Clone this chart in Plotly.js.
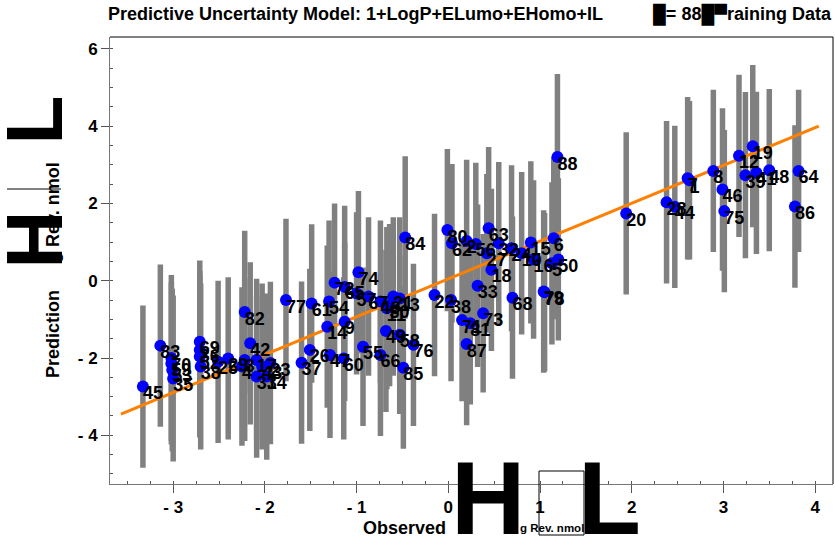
<!DOCTYPE html>
<html>
<head>
<meta charset="utf-8">
<script src="https://cdn.plot.ly/plotly-3.0.1.min.js"></script>
<style>
  html, body { margin: 0; padding: 0; background: #ffffff; }
  #chart { width: 835px; height: 541px; }
</style>
</head>
<body>
<div id="chart"></div>
<script>
// ---- data ----
const pointLabels = [
  "45","83","70","59","53","35","69","36","52","38","25","29","4","3","42","17","43","23","31","34","82",
  "77","61","54","14","9","37","26","47","60","55","66","49","58","76","85","74","72","65","57","67",
  "40","30","21","13","11","84",
  "80","62","2","56","27","63","32","24","10","18","15","16","6","50","5","79","78","33","68","22",
  "38b","73","71","81","87","88",
  "20","28","44","7","1","8","46","75","12","19","39","41","48","64","86"
];
const observed = [
  -3.33,-3.14,-3.02,-3.02,-3.01,-3.00,-2.71,-2.71,-2.71,-2.70,-2.51,-2.40,-2.25,-2.22,-2.16,-2.09,-2.03,-1.94,-2.09,-1.98,-2.22,
  -1.77,-1.49,-1.30,-1.32,-1.13,-1.60,-1.51,-1.29,-1.14,-0.93,-0.74,-0.68,-0.53,-0.38,-0.49,-0.98,-1.24,-1.13,-1.00,-0.87,
  -0.74,-0.64,-0.60,-0.53,-0.67,-0.47,
  -0.01,0.04,0.20,0.30,0.42,0.44,0.55,0.69,0.80,0.47,0.90,0.93,1.15,1.20,1.13,1.04,1.05,0.32,0.70,-0.15,
  0.03,0.38,0.15,0.24,0.20,1.19,
  1.94,2.38,2.47,2.61,2.63,2.89,2.99,3.01,3.17,3.32,3.24,3.36,3.50,3.82,3.78
];
const predicted = [
  -2.74,-1.68,-2.00,-2.14,-2.31,-2.53,-1.58,-1.79,-1.96,-2.22,-2.10,-2.01,-2.22,-2.05,-1.62,-2.05,-2.22,-2.13,-2.48,-2.48,-0.81,
  -0.50,-0.59,-0.54,-1.19,-1.06,-2.12,-1.79,-1.92,-2.01,-1.71,-1.92,-1.30,-1.40,-1.66,-2.25,0.22,-0.05,-0.16,-0.33,-0.41,
  -0.54,-0.63,-0.41,-0.46,-0.71,1.12,
  1.31,0.97,1.03,0.95,0.71,1.36,0.97,0.84,0.71,0.28,0.99,0.55,1.10,0.55,0.45,-0.28,-0.30,-0.13,-0.44,-0.37,
  -0.50,-0.84,-1.02,-1.10,-1.64,3.20,
  1.74,2.03,1.91,2.65,2.60,2.84,2.36,1.80,3.23,3.48,2.73,2.79,2.86,2.84,1.92
];
const intervalHalf = [
  2.10,2.10,2.15,2.10,2.10,2.15,2.10,2.05,2.10,2.15,2.10,2.10,2.05,2.10,2.10,2.10,2.15,2.10,2.10,2.15,2.10,
  2.10,2.05,2.10,2.10,2.05,2.10,2.10,2.15,2.10,2.05,2.10,2.10,2.05,2.10,2.10,2.10,2.05,2.10,2.10,2.05,
  2.10,2.10,2.05,2.10,2.10,2.10,
  2.10,2.05,2.10,2.10,2.05,2.10,2.10,2.15,2.10,2.10,2.10,2.05,2.10,2.10,2.10,2.10,2.05,2.10,2.10,2.10,
  2.10,2.05,2.10,2.10,2.10,2.15,
  2.10,2.10,2.10,2.10,2.05,2.10,2.10,2.10,2.10,2.10,2.15,2.10,2.10,2.10,2.10
];
const fitX = [-3.57, 4.04];
const fitY = [-3.45, 4.00];
const xTickVals = [-3,-2,-1,0,1,2,3,4];
const xTickText = ["- 3","- 2","- 1","0","1","2","3","4"];
const yTickVals = [-4,-2,0,2,4,6];
const yTickText = ["- 4","- 2","0","2","4","6"];

// ---- layout helpers ----
const W = 835, H = 541;
const M = {l: 110, r: 2, t: 37, b: 57};
const PW = W - M.l - M.r, PH = H - M.t - M.b;
const YRANGE = [-5.26, 6.305];
const px = v => (v - M.l) / PW;
const py = v => (H - M.b - v) / PH;
const FONT = "Liberation Sans, Arial, Helvetica, sans-serif";

const shownLabels = pointLabels.map(s => s.replace(/[a-z]$/, ""));
// labels sit ~8 px below the dot centre (converted to data units)
const labelDrop = 8 * (YRANGE[1] - YRANGE[0]) / PH;
const labelY = predicted.map(v => v - labelDrop);

const traces = [
  {
    type: "scatter", mode: "markers",
    x: observed, y: predicted,
    marker: {size: 1, color: "rgba(0,0,0,0)"},
    error_y: {type: "data", array: intervalHalf, symmetric: true, color: "#808080", thickness: 5.5, width: 0},
    hoverinfo: "skip", showlegend: false
  },
  {
    type: "scatter", mode: "lines",
    x: fitX, y: fitY,
    line: {color: "#ff8000", width: 3},
    hoverinfo: "skip", showlegend: false
  },
  {
    type: "scatter", mode: "markers",
    x: observed, y: predicted,
    marker: {size: 12, color: "#0000ff"},
    cliponaxis: false,
    showlegend: false
  },
  {
    type: "scatter", mode: "text",
    x: observed, y: labelY,
    text: shownLabels,
    textposition: "middle right",
    textfont: {family: FONT, size: 18, color: "#000", weight: "bold"},
    cliponaxis: false,
    hoverinfo: "skip", showlegend: false
  }
];

const big = (text, x, y, size, angle) => ({
  text: text, xref: "paper", yref: "paper", x: px(x), y: py(y),
  xanchor: "center", yanchor: "middle", showarrow: false, textangle: angle || 0,
  font: {family: FONT, size: size, color: "#000", weight: "bold"}
});

const NB = "\u00a0";
const layout = {
  width: W, height: H,
  margin: M,
  paper_bgcolor: "#ffffff", plot_bgcolor: "#ffffff",
  showlegend: false,
  title: {
    text: "Predictive Uncertainty Model: 1+LogP+ELumo+EHomo+IL" + NB.repeat(10) + "█= 88█▀raining Data",
    x: 108 / W, xanchor: "left", xref: "container",
    y: 1 - 14 / H, yanchor: "middle", yref: "container",
    font: {family: FONT, size: 18, color: "#000", weight: "bold"}
  },
  xaxis: {
    range: [-3.689, 4.195], showgrid: false, zeroline: false,
    showline: true, linecolor: "#777", linewidth: 1,
    tickmode: "array", tickvals: xTickVals, ticktext: xTickText,
    ticks: "outside", ticklen: 8, tickcolor: "#555", tickwidth: 1,
    tickfont: {family: FONT, size: 17, color: "#000", weight: "bold"},
    minor: {tickmode: "linear", tick0: 0, dtick: 0.25, ticks: "inside", ticklen: 3, tickcolor: "#555", showgrid: false}
  },
  yaxis: {
    range: YRANGE, showgrid: false, zeroline: false,
    showline: true, linecolor: "#777", linewidth: 1,
    tickmode: "array", tickvals: yTickVals, ticktext: yTickText,
    ticks: "outside", ticklen: 8, tickcolor: "#555", tickwidth: 1,
    tickfont: {family: FONT, size: 17, color: "#000", weight: "bold"},
    minor: {tickmode: "linear", tick0: 0, dtick: 0.5, ticks: "inside", ticklen: 3, tickcolor: "#555", showgrid: false}
  },
  shapes: [
    {type: "line", xref: "paper", yref: "paper", x0: 0, x1: 1, y0: 1, y1: 1, line: {color: "#000", width: 1}},
    {type: "line", xref: "paper", yref: "paper", x0: 1, x1: 1, y0: 0, y1: 1, line: {color: "#000", width: 1}},
    {type: "rect", xref: "paper", yref: "paper", x0: px(539), x1: px(584), y0: py(471), y1: py(535), line: {color: "#000", width: 1}},
    {type: "line", xref: "paper", yref: "paper", x0: px(7), x1: px(61), y0: py(189), y1: py(189), line: {color: "#000", width: 1}}
  ],
  annotations: [
    big("H", 487.5, 498, 103),
    big("L", 609, 498, 103),
    big("Observed", 404, 528, 18),
    {text: "g Rev. nmol", xref: "paper", yref: "paper", x: px(518), y: py(528), xanchor: "left", yanchor: "middle",
     showarrow: false, font: {family: FONT, size: 11.5, color: "#000", weight: "bold"}},
    big("H", 33.5, 240, 80, -90),
    big("L", 33.5, 120, 80, -90),
    big("Prediction", 53, 334, 18, -90),
    big("g Rev. nmol", 53, 213, 18, -90)
  ]
};

Plotly.newPlot("chart", traces, layout, {displayModeBar: false, staticPlot: true});
</script>
</body>
</html>
